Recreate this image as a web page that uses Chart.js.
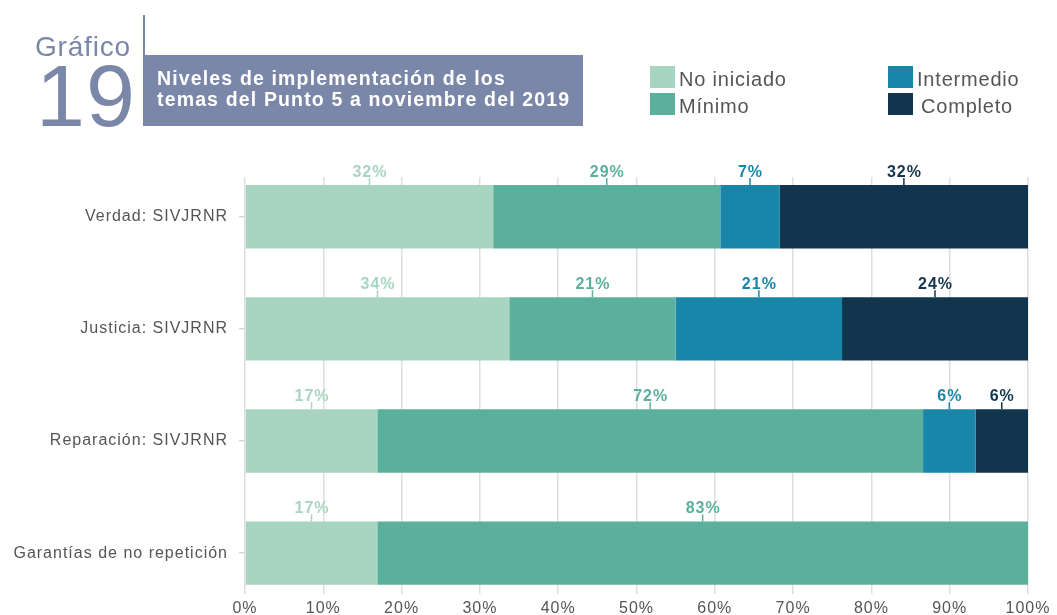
<!DOCTYPE html>
<html>
<head>
<meta charset="utf-8">
<script src="https://cdn.jsdelivr.net/npm/chart.js@4.4.1/dist/chart.umd.min.js"></script>
<style>
html,body{margin:0;padding:0;background:#fff;}
body{width:1057px;height:615px;position:relative;overflow:hidden;font-family:"Liberation Sans",Arial,Helvetica,sans-serif;}
#chartWrap{position:absolute;left:0;top:0;width:1057px;height:615px;}
.hdr{position:absolute;color:#7b87a8;white-space:nowrap;line-height:1;}
#grafico{left:35px;top:33px;font-size:28px;letter-spacing:0.8px;}
#num{left:36px;top:52px;font-size:88px;letter-spacing:1px;}
#vline{position:absolute;left:143px;top:15px;width:2px;height:41px;background:#7b87a8;}
#titleBox{position:absolute;left:143px;top:55px;width:440px;height:71px;background:#7b87a8;}
#titleText{position:absolute;left:157px;top:68px;color:#fff;font-weight:bold;font-size:19.5px;line-height:21px;letter-spacing:1.15px;white-space:nowrap;}
.lg{position:absolute;height:22px;white-space:nowrap;}
.lg .sw{position:absolute;left:0;top:0;width:25px;height:22px;}
.lg .tx{position:absolute;top:2px;font-size:20px;line-height:22px;letter-spacing:0.8px;color:#555;}
</style>
</head>
<body>
<div id="chartWrap"><canvas id="c"></canvas></div>
<div id="grafico" class="hdr">Gráfico</div>
<div id="num" class="hdr">19</div>
<div id="vline"></div>
<div id="titleBox"></div>
<div id="titleText">Niveles de implementación de los<br>temas del Punto 5 a noviembre del 2019</div>
<div id="legend"></div>
<script>
// ---- Data ----
const categories = ['Verdad: SIVJRNR', 'Justicia: SIVJRNR', 'Reparación: SIVJRNR', 'Garantías de no repetición'];
const seriesNames = ['No iniciado', 'Mínimo', 'Intermedio', 'Completo'];
const seriesColors = ['#a8d5c2', '#5bb09d', '#1985a8', '#11354f'];

const noIniciado = [31.7, 33.75, 16.9, 16.9];
const minimo     = [29.0, 21.25, 69.7, 83.1];
const intermedio = [7.6, 21.25, 6.7, 0];
const completo   = [31.7, 23.75, 6.7, 0];

const noIniciadoLabels = ['32%', '34%', '17%', '17%'];
const minimoLabels     = ['29%', '21%', '72%', '83%'];
const intermedioLabels = ['7%', '21%', '6%', ''];
const completoLabels   = ['32%', '24%', '6%', ''];

const xTickValues = [0, 10, 20, 30, 40, 50, 60, 70, 80, 90, 100];

// ---- Legend (HTML) ----
const legendPos = [[650, 66, 29], [650, 93, 29], [888, 66, 29], [888, 93, 33]];
const legendEl = document.getElementById('legend');
seriesNames.forEach((name, i) => {
  const d = document.createElement('div');
  d.className = 'lg';
  d.style.left = legendPos[i][0] + 'px';
  d.style.top = legendPos[i][1] + 'px';
  const sw = document.createElement('div');
  sw.className = 'sw';
  sw.style.background = seriesColors[i];
  const tx = document.createElement('div');
  tx.className = 'tx';
  tx.style.left = legendPos[i][2] + 'px';
  tx.textContent = name;
  d.appendChild(sw); d.appendChild(tx);
  legendEl.appendChild(d);
});

// ---- Chart ----
const FAMILY = '"Liberation Sans", Arial, Helvetica, sans-serif';
const seriesValues = [noIniciado, minimo, intermedio, completo];
const seriesLabels = [noIniciadoLabels, minimoLabels, intermedioLabels, completoLabels];

const datasets = seriesNames.map((name, s) => ({
  label: name,
  data: seriesValues[s].map((v, i) => ({ x: v, y: i })),
  printed: seriesLabels[s],
  backgroundColor: seriesColors[s],
  borderWidth: 0,
  stack: 'all',
  barPercentage: 0.565,
  categoryPercentage: 1
}));

const spacingPlugin = {
  id: 'spacing',
  beforeDraw(chart) { chart.ctx.letterSpacing = '1px'; }
};

const segLabels = {
  id: 'segLabels',
  afterDatasetsDraw(chart) {
    const ctx = chart.ctx;
    chart.data.datasets.forEach((ds, di) => {
      const meta = chart.getDatasetMeta(di);
      meta.data.forEach((bar, i) => {
        const txt = ds.printed[i];
        if (!txt || !ds.data[i].x) return;
        const p = bar.getProps(['x', 'y', 'base', 'height'], true);
        const cx = (p.x + p.base) / 2;
        const top = p.y - p.height / 2;
        ctx.save();
        ctx.strokeStyle = ds.backgroundColor;
        ctx.lineWidth = 1.5;
        ctx.beginPath();
        ctx.moveTo(cx, top);
        ctx.lineTo(cx, top - 7);
        ctx.stroke();
        ctx.fillStyle = ds.backgroundColor;
        ctx.font = 'bold 16px ' + FAMILY;
        ctx.letterSpacing = '1px';
        ctx.textAlign = 'center';
        ctx.textBaseline = 'alphabetic';
        ctx.fillText(txt, cx + 0.5, top - 8.5);
        ctx.restore();
      });
    });
  }
};

new Chart(document.getElementById('c'), {
  type: 'bar',
  data: { datasets },
  plugins: [spacingPlugin, segLabels],
  options: {
    indexAxis: 'y',
    responsive: true,
    maintainAspectRatio: false,
    animation: false,
    layout: { padding: { top: 177, right: 29, left: 0, bottom: 0 } },
    plugins: { legend: { display: false }, tooltip: { enabled: false } },
    scales: {
      x: {
        type: 'linear',
        position: 'bottom',
        min: 0, max: 100,
        stacked: true,
        afterBuildTicks: s => { s.ticks = xTickValues.map(v => ({ value: v })); },
        afterFit: s => { s.height = 20; },
        ticks: {
          callback: v => v + '%',
          color: '#555',
          font: { size: 16, family: FAMILY },
          padding: 5,
          maxRotation: 0,
          autoSkip: false
        },
        grid: { color: '#dedede', lineWidth: 1.5, drawTicks: false },
        border: { display: false }
      },
      y: {
        type: 'linear',
        reverse: true,
        offset: false,
        bounds: 'data',
        min: -0.354, max: 3.368,
        afterBuildTicks: s => { s.ticks = categories.map((c, i) => ({ value: i })); },
        afterFit: s => { s.width = 245; },
        ticks: {
          callback: v => categories[v],
          color: '#555',
          font: { size: 16, family: FAMILY },
          padding: 11,
          autoSkip: false
        },
        grid: { offset: false, drawOnChartArea: false, drawTicks: true, tickLength: 6, color: '#d6d6d6', lineWidth: 1.5 },
        border: { display: false }
      }
    }
  }
});
</script>
</body>
</html>
